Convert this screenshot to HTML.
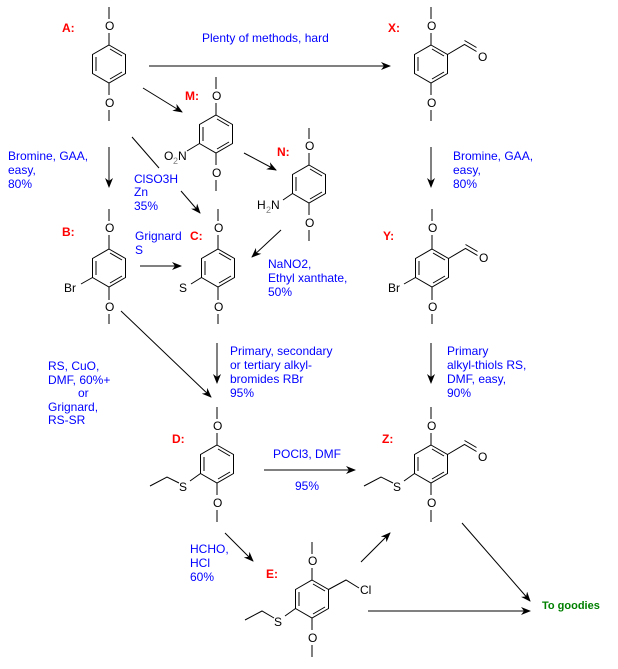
<!DOCTYPE html>
<html><head><meta charset="utf-8"><style>
body{margin:0;background:#fff}
svg{display:block}
text{font-family:"Liberation Sans",Arial,sans-serif;font-size:12px}
.b{fill:#0000ff}
.r{fill:#ff0000;font-weight:bold}
.k{fill:#000}
line,polyline,polygon{stroke:#000;stroke-width:1;fill:none}
</style></head><body>
<svg width="618" height="669" viewBox="0 0 618 669" xmlns="http://www.w3.org/2000/svg">
<defs>
<marker id="ah" markerWidth="10" markerHeight="8" refX="9" refY="4" orient="auto" markerUnits="userSpaceOnUse">
<path d="M0,0 L10,4 L0,8 L3,4 Z" fill="#000"/>
</marker>
<g id="ring">
<polygon points="0,-19 16.5,-9.5 16.5,9.5 0,19 -16.5,9.5 -16.5,-9.5"/>
<line x1="-13" y1="-7" x2="-13" y2="7"/>
<line x1="1" y1="-15" x2="13" y2="-8"/>
<line x1="1" y1="15" x2="13" y2="8"/>
</g>
<g id="cho">
<polyline points="0,0 17,-10 29,-3"/>
<line x1="17" y1="-14" x2="29" y2="-7"/>
</g>
</defs>

<!-- A -->
<use href="#ring" x="109" y="64"/>
<line x1="109" y1="7" x2="109" y2="19"/><text class="k" x="105" y="30">O</text><line x1="109" y1="33" x2="109" y2="45"/>
<line x1="109" y1="83" x2="109" y2="95"/><text class="k" x="105" y="107">O</text><line x1="109" y1="110" x2="109" y2="121"/>
<text class="r" x="62" y="32">A:</text>

<!-- X -->
<use href="#ring" x="431" y="64"/>
<line x1="431" y1="7" x2="431" y2="19"/><text class="k" x="427" y="30">O</text><line x1="431" y1="33" x2="431" y2="45"/>
<line x1="431" y1="83" x2="431" y2="95"/><text class="k" x="427" y="107">O</text><line x1="431" y1="110" x2="431" y2="121"/>
<use href="#cho" x="447.5" y="54.5"/><text class="k" x="478" y="61">O</text>
<text class="r" x="388" y="32">X:</text>

<!-- M -->
<use href="#ring" x="216" y="134"/>
<line x1="216" y1="77" x2="216" y2="89"/><text class="k" x="212" y="100">O</text><line x1="216" y1="103" x2="216" y2="115"/>
<line x1="216" y1="153" x2="216" y2="165"/><text class="k" x="212" y="177">O</text><line x1="216" y1="180" x2="216" y2="191"/>
<line x1="199.5" y1="143.5" x2="187" y2="151"/>
<text class="k" x="164" y="160">O</text><text x="173" y="164" style="font-size:9px;fill:#808080">2</text><text class="k" x="178" y="160">N</text>
<text class="r" x="185" y="100">M:</text>

<!-- N -->
<use href="#ring" x="309" y="184"/>
<line x1="309" y1="128" x2="309" y2="139"/><text class="k" x="305" y="150">O</text><line x1="309" y1="153" x2="309" y2="165"/>
<line x1="309" y1="203" x2="309" y2="215"/><text class="k" x="305" y="227">O</text><line x1="309" y1="230" x2="309" y2="241"/>
<line x1="292.5" y1="193.5" x2="283" y2="200"/>
<text class="k" x="257" y="209">H</text><text x="266" y="213" style="font-size:9px;fill:#808080">2</text><text class="k" x="271" y="209">N</text>
<text class="r" x="277" y="156">N:</text>

<!-- B -->
<use href="#ring" x="109" y="268"/>
<line x1="109" y1="209" x2="109" y2="221"/><text class="k" x="105" y="232">O</text><line x1="109" y1="235" x2="109" y2="249"/>
<line x1="109" y1="287" x2="109" y2="300"/><text class="k" x="105" y="311">O</text><line x1="109" y1="314" x2="109" y2="324"/>
<line x1="92.5" y1="277.5" x2="81" y2="284"/><text class="k" x="64" y="292">Br</text>
<text class="r" x="62" y="236">B:</text>

<!-- C -->
<use href="#ring" x="218" y="268"/>
<line x1="218" y1="209" x2="218" y2="221"/><text class="k" x="214" y="232">O</text><line x1="218" y1="235" x2="218" y2="249"/>
<line x1="218" y1="287" x2="218" y2="300"/><text class="k" x="214" y="311">O</text><line x1="218" y1="314" x2="218" y2="324"/>
<line x1="201.5" y1="277.5" x2="191" y2="284"/><text class="k" x="179" y="292">S</text>
<text class="r" x="190" y="240">C:</text>

<!-- Y -->
<use href="#ring" x="432" y="268"/>
<line x1="432" y1="209" x2="432" y2="221"/><text class="k" x="428" y="232">O</text><line x1="432" y1="235" x2="432" y2="249"/>
<line x1="432" y1="287" x2="432" y2="300"/><text class="k" x="428" y="311">O</text><line x1="432" y1="314" x2="432" y2="324"/>
<use href="#cho" x="448.5" y="258.5"/><text class="k" x="479" y="262">O</text>
<line x1="415.5" y1="277.5" x2="404" y2="284"/><text class="k" x="388" y="292">Br</text>
<text class="r" x="383" y="240">Y:</text>

<!-- D -->
<use href="#ring" x="217" y="464"/>
<line x1="217" y1="407" x2="217" y2="419"/><text class="k" x="213" y="430">O</text><line x1="217" y1="433" x2="217" y2="445"/>
<line x1="217" y1="483" x2="217" y2="495"/><text class="k" x="213" y="507">O</text><line x1="217" y1="510" x2="217" y2="522"/>
<line x1="200.5" y1="473.5" x2="190" y2="481"/><text class="k" x="179" y="491">S</text>
<polyline points="179,483 167,477 150,486"/>
<text class="r" x="172" y="443">D:</text>

<!-- Z -->
<use href="#ring" x="431" y="464"/>
<line x1="431" y1="407" x2="431" y2="419"/><text class="k" x="427" y="430">O</text><line x1="431" y1="433" x2="431" y2="445"/>
<line x1="431" y1="483" x2="431" y2="495"/><text class="k" x="427" y="507">O</text><line x1="431" y1="510" x2="431" y2="522"/>
<use href="#cho" x="447.5" y="454.5"/><text class="k" x="478" y="461">O</text>
<line x1="414.5" y1="473.5" x2="404" y2="481"/><text class="k" x="393" y="491">S</text>
<polyline points="393,483 381,477 364,486"/>
<text class="r" x="382" y="443">Z:</text>

<!-- E -->
<use href="#ring" x="312" y="599"/>
<line x1="312" y1="542" x2="312" y2="554"/><text class="k" x="308" y="565">O</text><line x1="312" y1="568" x2="312" y2="580"/>
<line x1="312" y1="618" x2="312" y2="630"/><text class="k" x="308" y="642">O</text><line x1="312" y1="645" x2="312" y2="657"/>
<polyline points="328.5,589.5 346,580 359,588"/><text class="k" x="360" y="594">Cl</text>
<line x1="295.5" y1="608.5" x2="285" y2="616"/><text class="k" x="274" y="626">S</text>
<polyline points="274,618 262,611 245,620"/>
<text class="r" x="266" y="578">E:</text>

<!-- arrows -->
<line x1="149" y1="66" x2="390" y2="66" marker-end="url(#ah)"/>
<line x1="143" y1="88" x2="182" y2="112" marker-end="url(#ah)"/>
<line x1="109" y1="147" x2="109" y2="187" marker-end="url(#ah)"/>
<line x1="132" y1="137" x2="159" y2="168"/>
<line x1="181" y1="191" x2="200" y2="213" marker-end="url(#ah)"/>
<line x1="244" y1="153" x2="276" y2="170" marker-end="url(#ah)"/>
<line x1="281" y1="230" x2="252" y2="257" marker-end="url(#ah)"/>
<line x1="140" y1="266" x2="181" y2="266" marker-end="url(#ah)"/>
<line x1="431" y1="147" x2="431" y2="187" marker-end="url(#ah)"/>
<line x1="121" y1="311" x2="211" y2="397" marker-end="url(#ah)"/>
<line x1="217" y1="343" x2="217" y2="383" marker-end="url(#ah)"/>
<line x1="431" y1="343" x2="431" y2="383" marker-end="url(#ah)"/>
<line x1="264" y1="470" x2="355" y2="470" marker-end="url(#ah)"/>
<line x1="225" y1="533" x2="253" y2="561" marker-end="url(#ah)"/>
<line x1="361" y1="562" x2="390" y2="533" marker-end="url(#ah)"/>
<line x1="368" y1="611" x2="530" y2="611" marker-end="url(#ah)"/>
<line x1="462" y1="523" x2="530" y2="601" marker-end="url(#ah)"/>

<!-- labels -->
<text class="b" x="202" y="42">Plenty of methods, hard</text>
<text class="b" x="8" y="160">Bromine, GAA,</text><text class="b" x="8" y="174">easy,</text><text class="b" x="8" y="188">80%</text>
<text class="b" x="453" y="160">Bromine, GAA,</text><text class="b" x="453" y="174">easy,</text><text class="b" x="453" y="188">80%</text>
<text class="b" x="134" y="183">ClSO3H</text><text class="b" x="134" y="196">Zn</text><text class="b" x="134" y="210">35%</text>
<text class="b" x="135" y="240">Grignard</text><text class="b" x="135" y="254">S</text>
<text class="b" x="268" y="268">NaNO2,</text><text class="b" x="268" y="282">Ethyl xanthate,</text><text class="b" x="268" y="296">50%</text>
<text class="b" x="230" y="355">Primary, secondary</text><text class="b" x="230" y="369">or tertiary alkyl-</text><text class="b" x="230" y="383">bromides RBr</text><text class="b" x="230" y="397">95%</text>
<text class="b" x="447" y="355">Primary</text><text class="b" x="447" y="369">alkyl-thiols RS,</text><text class="b" x="447" y="383">DMF, easy,</text><text class="b" x="447" y="397">90%</text>
<text class="b" x="48" y="370">RS, CuO,</text><text class="b" x="48" y="384">DMF, 60%+</text><text class="b" x="78" y="397">or</text><text class="b" x="48" y="411">Grignard,</text><text class="b" x="48" y="424">RS-SR</text>
<text class="b" x="273" y="458">POCl3, DMF</text><text class="b" x="295" y="490">95%</text>
<text class="b" x="190" y="553">HCHO,</text><text class="b" x="190" y="567">HCl</text><text class="b" x="190" y="581">60%</text>
<text x="542" y="609" style="fill:#008000;font-weight:bold;font-size:11px">To goodies</text>
</svg>
</body></html>
